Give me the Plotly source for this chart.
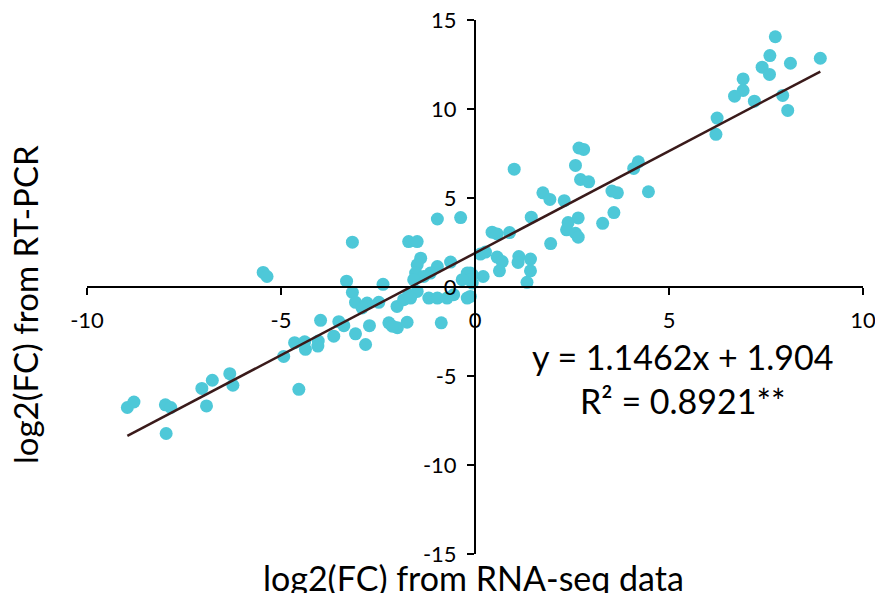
import plotly.graph_objects as go

# log2(FC) from RNA-seq (x) vs RT-PCR (y)
rnaseq_x = [
    7.74, 7.60, 8.90, 8.13, 7.40, 7.59, 6.91, 6.91, 6.69, 7.20, 7.93, 8.06, 6.24, 6.21,
    2.68, 2.80, 1.01, 2.59, 4.09, 4.21, 2.72, 2.93, 1.75, 1.93, 2.30, 3.53, 3.67, 4.47,
    3.58, 3.29, 2.66, 2.40, 2.36, 2.59, 2.66, 1.95, 1.45, 0.89, 0.44, 0.57, 0.14, 0.27,
    0.57, 0.70, 0.63, 1.13, 1.11, 1.43, 1.43, 1.34, 0.21, -0.07, -0.07, -0.12, -0.12,
    -5.46, -5.36, -3.16, -0.97, -0.37, -1.71, -1.49, -1.40, -1.49, -1.53, -0.97, -0.63,
    -1.15, -1.32, -1.58, -0.20, -0.12, -0.33, -3.31, -2.37, -3.16, -3.08, -2.78, -2.48,
    -2.91, -2.01, -1.84, -1.71, -1.49, -1.66, -1.19, -0.97, -0.72, -0.55, -0.20,
    -3.98, -3.51, -3.38, -3.64, -3.08, -2.82, -2.72, -2.22, -2.00, -1.75, -2.13, -0.87,
    -4.65, -4.39, -4.37, -4.04, -4.05, -4.93, -4.54,
    -6.32, -6.24, -6.77, -7.04, -6.92, -7.98, -7.84, -7.96, -8.96, -8.79,
]
rtpcr_y = [
    14.06, 13.00, 12.85, 12.57, 12.35, 11.94, 11.69, 11.04, 10.72, 10.44, 10.76, 9.92, 9.49, 8.58,
    7.81, 7.73, 6.62, 6.83, 6.66, 7.03, 6.04, 5.91, 5.29, 4.92, 4.85, 5.39, 5.29, 5.35,
    4.18, 3.58, 3.88, 3.62, 3.21, 3.02, 2.80, 2.44, 3.92, 3.06, 3.08, 2.98, 1.85, 1.96,
    1.68, 1.43, 0.91, 1.71, 1.38, 1.57, 0.91, 0.26, 0.59, 0.69, 0.22, 0.78, -0.53,
    0.82, 0.59, 2.52, 3.82, 3.90, 2.55, 2.55, 1.62, 1.25, 0.78, 1.15, 1.40,
    0.78, 0.59, 0.41, 0.78, 0.41, 0.41, 0.33, 0.15, -0.30, -0.86, -0.90, -0.86,
    -1.18, -1.09, -0.71, -0.43, -0.25, -0.62, -0.62, -0.62, -0.62, -0.43, -0.62,
    -1.87, -1.95, -2.17, -2.76, -2.63, -3.23, -2.17, -2.01, -2.29, -1.98, -2.20, -2.01,
    -3.13, -3.08, -3.50, -3.04, -3.32, -3.90, -5.75,
    -4.87, -5.52, -5.24, -5.70, -6.68, -6.62, -6.77, -8.23, -6.77, -6.46,
]

slope = 1.1462
intercept = 1.904
equation_text = "y = 1.1462x + 1.904<br>R² = 0.8921**"
x_title = "log2(FC) from RNA-seq data"
y_title = "log2(FC) from RT-PCR"
x_ticks = [-10, -5, 0, 5, 10]
x_tick_labels = ["-10", "-5", "0", "5", "10"]
y_ticks = [-15, -10, -5, 0, 5, 10, 15]
y_tick_labels = ["-15", "-10", "-5", "0", "5", "10", "15"]

FONT = "Lato, 'Open Sans', sans-serif"

x_min, x_max = min(rnaseq_x), max(rnaseq_x)
trend_x = [x_min, x_max]
trend_y = [slope * v + intercept for v in trend_x]

fig = go.Figure()
fig.add_trace(go.Scatter(
    x=rnaseq_x, y=rtpcr_y, mode="markers",
    marker=dict(color="#4EC8D8", size=13, line=dict(width=0)),
    showlegend=False,
))
fig.add_trace(go.Scatter(
    x=trend_x, y=trend_y, mode="lines",
    line=dict(color="#3A1A1A", width=2.5),
    showlegend=False,
))

axis_common = dict(
    showgrid=False, zeroline=False, showline=True, linecolor="#000000", linewidth=2,
    ticks="outside", ticklen=7, tickwidth=2, tickcolor="#000000",
    tickfont=dict(family=FONT, size=22, color="#000000"),
    anchor="free", position=0.5, automargin=False, ticklabeloverflow="allow",
)

PX0, PY0 = 87, 20      # plot-area top-left in screenshot pixels
PW, PH = 776, 534

fig.update_layout(
    width=875, height=593,
    margin=dict(l=87, r=12, t=20, b=39),
    paper_bgcolor="white", plot_bgcolor="white",
    xaxis=dict(range=[-10, 10], tickvals=x_ticks, ticktext=x_tick_labels,
               ticklabelstandoff=7, **axis_common),
    yaxis=dict(range=[-15, 15], tickvals=y_ticks, ticktext=y_tick_labels,
               ticklabelstandoff=6, **axis_common),
    annotations=[
        dict(text=equation_text, xref="paper", yref="paper",
             x=(682 - PX0) / PW, y=(PY0 + PH - 378) / PH,
             showarrow=False, xanchor="center", yanchor="middle", align="center",
             font=dict(family=FONT, size=34, color="#000000")),
        dict(text=x_title, xref="paper", yref="paper",
             x=(473 - PX0) / PW, y=(PY0 + PH - 577) / PH,
             showarrow=False, xanchor="center", yanchor="middle",
             font=dict(family=FONT, size=34, color="#000000")),
        dict(text=y_title, xref="paper", yref="paper",
             x=(25 - PX0) / PW, y=(PY0 + PH - 305) / PH,
             showarrow=False, xanchor="center", yanchor="middle", textangle=-90,
             font=dict(family=FONT, size=33, color="#000000")),
    ],
)

fig.write_html(
    "out.html",
    config={"displayModeBar": False},
    post_script="document.body.style.margin='0';document.body.style.overflow='hidden';",
)
